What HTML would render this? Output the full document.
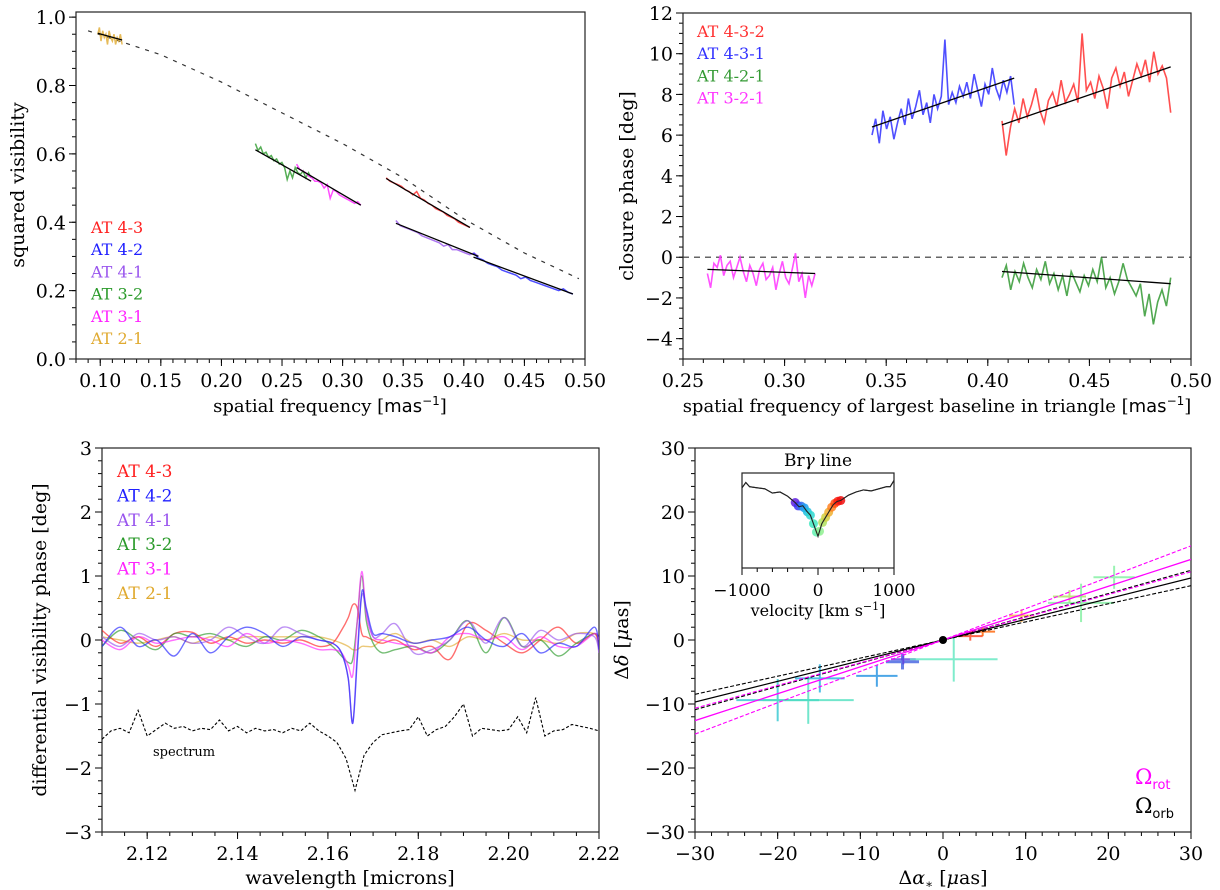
<!DOCTYPE html>
<html><head><meta charset="utf-8"><style>
html,body{margin:0;padding:0;background:#fff;}
svg{display:block;font-family:"DejaVu Serif","Liberation Serif",serif;}
</style></head><body>
<svg id="fig" width="1220" height="890" viewBox="0 0 1220 890" xmlns="http://www.w3.org/2000/svg"></svg>
<script>
// ---------- Panel 1 data: squared visibility ----------
const p1Names = ["AT 4-3","AT 4-2","AT 4-1","AT 3-2","AT 3-1","AT 2-1"];
const p1Colors = ["#ff2020","#2020ff","#9955ee","#2a9a2a","#ff22ff","#e0aa30"];
const p1XStart = [0.336,0.408,0.344,0.228,0.262,0.098];
const p1XEnd = [0.405,0.490,0.412,0.274,0.315,0.118];
const p1FitStart = [0.528,0.298,0.397,0.612,0.560,0.953];
const p1FitEnd = [0.385,0.190,0.300,0.520,0.450,0.933];
const p1V43 = [0.53,0.52,0.515,0.51,0.505,0.495,0.49,0.48,0.49,0.47,0.465,0.455,0.45,0.44,0.435,0.43,0.42,0.415,0.41,0.40,0.395,0.39,0.385];
const p1V42 = [0.31,0.295,0.29,0.28,0.275,0.27,0.26,0.255,0.25,0.245,0.235,0.24,0.23,0.225,0.22,0.215,0.21,0.205,0.20,0.205,0.195,0.19];
const p1V41 = [0.405,0.39,0.385,0.38,0.375,0.37,0.36,0.355,0.35,0.345,0.34,0.33,0.335,0.32,0.32,0.315,0.31,0.305,0.31,0.30];
const p1V32 = [0.63,0.61,0.62,0.60,0.605,0.59,0.595,0.58,0.585,0.57,0.575,0.56,0.525,0.55,0.53,0.56,0.545,0.54,0.55,0.53,0.545,0.53];
const p1V31 = [0.57,0.555,0.55,0.545,0.535,0.53,0.52,0.52,0.515,0.50,0.51,0.47,0.495,0.49,0.48,0.475,0.47,0.465,0.46,0.455,0.46,0.45];
const p1V21 = [0.95,0.97,0.93,0.96,0.94,0.95,0.92,0.96,0.94,0.93,0.95,0.92,0.94,0.93,0.95,0.92];
const p1ModelX = [0.09,0.15,0.20,0.25,0.30,0.35,0.40,0.45,0.495];
const p1ModelY = [0.96,0.89,0.81,0.72,0.63,0.53,0.41,0.31,0.235];
const p1XTicks = ["0.10","0.15","0.20","0.25","0.30","0.35","0.40","0.45","0.50"];
const p1YTicks = ["0.0","0.2","0.4","0.6","0.8","1.0"];

// ---------- Panel 2 data: closure phase ----------
const p2Names = ["AT 4-3-2","AT 4-3-1","AT 4-2-1","AT 3-2-1"];
const p2Colors = ["#ff3030","#3030ff","#339933","#ff33ff"];
const p2XStart = [0.407,0.343,0.407,0.262];
const p2XEnd = [0.490,0.413,0.490,0.315];
const p2FitStart = [6.5,6.4,-0.7,-0.6];
const p2FitEnd = [9.35,8.8,-1.3,-0.8];
const p2V432 = [6.7,5.0,6.4,7.3,6.6,7.8,6.9,7.5,8.3,7.2,6.6,7.7,8.1,7.4,8.7,7.6,8.0,8.5,7.6,11.0,8.2,8.6,7.8,8.9,8.3,7.3,8.8,9.3,8.4,9.1,7.9,8.7,9.5,8.9,9.7,8.6,10.1,9.0,9.4,8.8,7.1];
const p2V431 = [6.0,6.8,5.6,7.2,6.3,6.9,5.8,6.6,7.3,6.5,7.8,6.8,7.4,8.2,7.0,7.6,6.6,8.0,7.3,7.9,10.7,7.5,8.1,7.6,8.4,7.9,8.6,7.8,9.0,8.2,7.4,8.5,8.0,9.3,8.3,7.8,8.7,8.1,8.9,7.5];
const p2V421 = [-1.0,-0.4,-1.6,-0.7,-1.2,-0.3,-1.0,-1.5,-0.6,-1.1,-0.2,-1.3,-0.8,-1.6,-0.9,-1.9,-0.7,-1.2,-1.7,-0.9,-1.4,-0.6,-1.2,0.0,-1.5,-1.0,-1.8,-1.2,-0.3,-1.1,-1.5,-1.9,-1.3,-2.9,-1.8,-3.3,-2.2,-1.6,-2.4,-1.0];
const p2V321 = [-0.8,-1.5,-0.3,-0.5,0.1,-0.9,-0.4,-0.2,-1.0,-0.5,0.0,-0.7,-1.2,-0.4,-0.8,-1.4,-0.6,-0.3,-1.1,-0.9,-0.5,-1.6,-0.8,-0.2,-1.0,-1.3,-0.6,0.2,-1.2,-0.8,-2.0,-0.9,-1.4,-0.8];
const p2XTicks = ["0.25","0.30","0.35","0.40","0.45","0.50"];
const p2YTicks = ["−4","−2","0","2","4","6","8","10","12"];

// ---------- Panel 3 data: differential phase ----------
const p3Names = ["AT 4-3","AT 4-2","AT 4-1","AT 3-2","AT 3-1","AT 2-1"];
const p3Colors = ["#ff2020","#2020ff","#9955ee","#2a9a2a","#ff22ff","#e0aa30"];
const p3Wave = [2.110,2.114,2.118,2.122,2.126,2.130,2.134,2.138,2.142,2.146,2.150,2.154,2.158,2.161,2.163,2.1645,2.1655,2.1665,2.1675,2.1685,2.170,2.172,2.175,2.179,2.183,2.187,2.191,2.195,2.199,2.203,2.207,2.211,2.215,2.219,2.220];
const p3V43 = [0.15,-0.05,0.05,-0.1,0.1,0.12,-0.05,0.05,-0.05,0.0,-0.05,0.0,-0.1,-0.05,0.15,0.35,0.55,0.5,0.1,0.05,0.0,-0.05,0.0,-0.15,-0.1,-0.3,0.25,0.15,-0.05,-0.2,0.0,0.2,-0.05,0.1,-0.15];
const p3V42 = [-0.1,0.2,-0.1,0.0,-0.25,0.1,-0.2,0.05,0.2,0.1,-0.1,0.05,0.0,-0.05,-0.2,-0.6,-1.3,-0.3,0.75,0.5,0.1,0.1,0.05,-0.05,0.0,0.05,0.2,0.0,-0.1,0.1,-0.2,-0.05,-0.1,0.2,-0.15];
const p3V41 = [0.05,-0.1,0.1,0.0,0.05,-0.05,0.0,0.2,0.05,-0.05,0.2,0.1,0.0,-0.05,-0.2,-0.6,-1.3,-0.2,0.7,0.45,0.05,0.1,0.25,-0.2,-0.15,0.0,0.3,-0.05,0.35,-0.1,0.15,0.0,0.1,0.05,-0.2];
const p3V32 = [-0.1,0.15,0.0,-0.15,0.1,0.05,0.1,0.0,-0.1,0.05,0.0,0.15,0.05,-0.1,-0.25,-0.35,-0.3,0.3,1.0,0.3,-0.05,-0.2,-0.15,-0.1,-0.2,0.0,0.3,-0.2,0.35,-0.1,0.0,-0.25,-0.05,0.1,0.0];
const p3V31 = [0.0,-0.15,0.05,-0.05,0.0,0.05,0.0,-0.1,0.1,-0.05,0.0,-0.05,-0.15,-0.15,-0.2,-0.4,-0.55,0.3,1.07,0.4,0.05,0.0,-0.05,-0.1,-0.2,0.05,0.1,0.0,0.05,-0.15,0.05,-0.1,-0.1,0.1,0.0];
const p3V21 = [0.05,0.0,-0.05,0.0,0.05,-0.05,0.05,0.0,0.05,0.05,0.05,0.05,0.05,0.0,-0.05,-0.1,-0.15,-0.15,-0.1,-0.1,-0.1,0.0,0.1,-0.05,0.0,-0.1,0.05,0.0,0.1,0.0,0.0,-0.05,0.1,0.1,0.0];
const p3SpecStart = 2.110;
const p3SpecStep = 0.002;
const p3Spec = [-1.55,-1.42,-1.38,-1.45,-1.1,-1.5,-1.4,-1.3,-1.38,-1.35,-1.42,-1.38,-1.4,-1.25,-1.42,-1.35,-1.45,-1.38,-1.42,-1.4,-1.45,-1.38,-1.42,-1.3,-1.42,-1.5,-1.6,-1.85,-2.35,-1.8,-1.6,-1.48,-1.45,-1.42,-1.4,-1.2,-1.5,-1.4,-1.35,-1.2,-1.0,-1.5,-1.38,-1.4,-1.42,-1.4,-1.2,-1.45,-0.9,-1.5,-1.42,-1.4,-1.32,-1.35,-1.38,-1.42];
const p3XTicks = ["2.12","2.14","2.16","2.18","2.20","2.22"];
const p3YTicks = ["−3","−2","−1","0","1","2","3"];

// ---------- Panel 4 data: photocentre offsets ----------
const p4PtX = [-20.0,-16.3,-14.9,-8.0,-4.9,-4.8,1.3,3.3,4.8,9.5,15.3,16.7,20.7];
const p4PtY = [-9.4,-9.4,-6.0,-5.6,-3.4,-3.0,-3.0,0.6,1.3,3.8,6.8,5.8,9.8];
const p4ErrX = [5.0,5.5,3.0,2.5,2.0,1.5,5.3,1.5,1.5,1.5,2.0,4.0,2.5];
const p4ErrY = [3.3,3.7,2.2,1.7,1.2,0.8,3.5,0.7,0.7,1.0,1.0,3.0,1.8];
const p4PtColors = ["#30c8d0","#50e0c0","#20b0e0","#2090e0","#4060e0","#6040e0","#60e8c0","#ff4020","#ff6000","#ffb040","#b0e060","#80f0a0","#80f0a0"];
const p4RotSlope = 0.42;
const p4RotSlopeErr = [0.355,0.49];
const p4OrbSlope = 0.323;
const p4OrbSlopeErr = [0.283,0.363];
const p4Ticks = ["−30","−20","−10","0","10","20","30"];
const insetVel = [-1000,-950,-900,-800,-700,-600,-500,-400,-300,-250,-200,-150,-100,-50,0,50,100,150,200,250,300,400,500,600,700,800,900,950,1000];
const insetFlux = [0.93,0.955,0.935,0.93,0.925,0.905,0.91,0.89,0.86,0.84,0.845,0.82,0.80,0.75,0.70,0.76,0.79,0.82,0.85,0.865,0.87,0.895,0.91,0.92,0.915,0.925,0.935,0.935,0.965];
const insetDotVel = [-300,-260,-220,-180,-140,-100,-60,-20,20,60,100,140,180,220,260,300];
const insetDotColors = ["#6020e0","#4030f0","#3070f0","#20a0f0","#20c0e0","#30d8d0","#40e8c0","#60f0b0","#90f090","#b0e060","#d0d040","#f0b030","#ff8020","#ff5010","#ff2010","#ee1010"];

const NS = "http://www.w3.org/2000/svg";
const svg = document.getElementById("fig");
function el(tag, attrs, parent) {
  const e = document.createElementNS(NS, tag);
  for (const k in attrs) e.setAttribute(k, attrs[k]);
  (parent || svg).appendChild(e);
  return e;
}
function num(s){return parseFloat(s.replace("−","-"));}
function axes(name, px0, px1, py0, py1, xmin, xmax, ymin, ymax, xticks, yticks, xminor, yminor, fs) {
  const g = el("g", {});
  
  
  const sx = v => px0 + (v - xmin) / (xmax - xmin) * (px1 - px0);
  const sy = v => py1 - (v - ymin) / (ymax - ymin) * (py1 - py0);
  const tg = el("g", {stroke:"#000","stroke-width":1}, g);
  
  
  for (let v = Math.ceil(xmin / xminor - 1e-6) * xminor; v <= xmax + 1e-9; v += xminor)
    el("line", {x1:sx(v), x2:sx(v), y1:py1, y2:py1+4}, tg);
  for (let v = Math.ceil(ymin / yminor - 1e-6) * yminor; v <= ymax + 1e-9; v += yminor)
    el("line", {x1:px0-4, x2:px0, y1:sy(v), y2:sy(v)}, tg);
  xticks.forEach(t => {
    const v = num(t);
    el("line", {x1:sx(v), x2:sx(v), y1:py1, y2:py1+7}, tg);
    const tx = el("text", {x:sx(v), y:py1+28, "font-size":fs, "text-anchor":"middle"}, g);
    
    
    tx.textContent = t;
  });
  yticks.forEach(t => {
    const v = num(t);
    el("line", {x1:px0-7, x2:px0, y1:sy(v), y2:sy(v)}, tg);
    const tx = el("text", {x:px0-10, y:sy(v)+7, "font-size":fs, "text-anchor":"end"}, g);
    
    
    tx.textContent = t;
  });
  const fr = el("rect", {x:px0, y:py0, width:px1-px0, height:py1-py0, fill:"none", stroke:"#222", "stroke-width":1.2}, g);
  
  
  const clipId = name + "-clip";
  const cp = el("clipPath", {id:clipId}, g);
  el("rect", {x:px0, y:py0, width:px1-px0, height:py1-py0}, cp);
  const plot = el("g", {"clip-path":"url(#"+clipId+")"}, g);
  
  
  return {sx, sy, g, plot};
}
function label(txt, x, y, size, rot, color, anchor, nm) {
  const t = el("text", {x, y, "font-size":size, fill:color||"#000", "text-anchor":anchor||"middle"});
  if (rot) t.setAttribute("transform", "rotate(-90 " + x + " " + y + ")");
  
  
  t.innerHTML = txt;
  return t;
}
function poly(parent, pts, attrs, nm) {
  const p = el("polyline", Object.assign({points: pts.map(p=>p[0].toFixed(1)+","+p[1].toFixed(1)).join(" "), fill:"none"}, attrs), parent);
  
  
  return p;
}
function smooth(parent, pts, attrs, nm) {
  let d = "M" + pts[0][0] + "," + pts[0][1];
  for (let i = 0; i < pts.length - 1; i++) {
    const p0 = pts[Math.max(0,i-1)], p1 = pts[i], p2 = pts[i+1], p3 = pts[Math.min(pts.length-1,i+2)];
    const c1 = [p1[0]+(p2[0]-p0[0])/6, p1[1]+(p2[1]-p0[1])/6];
    const c2 = [p2[0]-(p3[0]-p1[0])/6, p2[1]-(p3[1]-p1[1])/6];
    d += " C" + c1.join(",") + " " + c2.join(",") + " " + p2.join(",");
  }
  const p = el("path", Object.assign({d, fill:"none"}, attrs), parent);
  
  
  return p;
}

// ===== Panel 1 =====
const A1 = axes("visibility-panel", 76, 585, 12, 359, 0.08, 0.50, 0, 1.015, p1XTicks, p1YTicks, 0.01, 0.05, 19);
const p1Vals = [p1V43, p1V42, p1V41, p1V32, p1V31, p1V21];
poly(A1.plot, p1ModelX.map((x,i)=>[A1.sx(x), A1.sy(p1ModelY[i])]), {stroke:"#333","stroke-width":1.2,"stroke-dasharray":"4,6"}, "model-curve");
[5,3,4,2,0,1].forEach(i => {
  const v = p1Vals[i], n = v.length;
  poly(A1.plot, v.map((y,k)=>[A1.sx(p1XStart[i]+(p1XEnd[i]-p1XStart[i])*k/(n-1)), A1.sy(y)]), {stroke:p1Colors[i],"stroke-width":1.5,opacity:0.8}, "data-" + p1Names[i].replace(/ /g,"-").toLowerCase());
});
p1Vals.forEach((v,i) => {
  poly(A1.plot, [[A1.sx(p1XStart[i]),A1.sy(p1FitStart[i])],[A1.sx(p1XEnd[i]),A1.sy(p1FitEnd[i])]], {stroke:"#000","stroke-width":1.3}, "fit-line");
});
p1Names.forEach((n,i) => label(n, 91, 233 + i*22.2, 16, false, p1Colors[i], "start", "legend-entry"));
label("squared visibility", 24, 185, 19, true, "#000", "middle", "y-axis-title");
label('spatial frequency [<tspan font-family="DejaVu Sans">mas</tspan><tspan font-size="12" dy="-7" font-family="DejaVu Sans">−1</tspan><tspan dy="7">]</tspan>', 330, 412, 18, false, "#000", "middle", "x-axis-title");

// ===== Panel 2 =====
const A2 = axes("closure-phase-panel", 683, 1191, 13, 359, 0.25, 0.50, -5, 12, p2XTicks, p2YTicks, 0.01, 0.5, 19);
poly(A2.plot, [[A2.sx(0.25),A2.sy(0)],[A2.sx(0.5),A2.sy(0)]], {stroke:"#333","stroke-width":1.2,"stroke-dasharray":"6,5"}, "zero-line");
const p2Vals = [p2V432, p2V431, p2V421, p2V321];
p2Vals.forEach((v,i) => {
  const n = v.length;
  poly(A2.plot, v.map((y,k)=>[A2.sx(p2XStart[i]+(p2XEnd[i]-p2XStart[i])*k/(n-1)), A2.sy(y)]), {stroke:p2Colors[i],"stroke-width":1.6,opacity:0.85}, "data-" + p2Names[i].replace(/ /g,"-").toLowerCase());
});
p2Vals.forEach((v,i) => {
  poly(A2.plot, [[A2.sx(p2XStart[i]),A2.sy(p2FitStart[i])],[A2.sx(p2XEnd[i]),A2.sy(p2FitEnd[i])]], {stroke:"#000","stroke-width":1.3}, "fit-line");
});
p2Names.forEach((n,i) => label(n, 697, 37 + i*22.2, 16, false, p2Colors[i], "start", "legend-entry"));
label("closure phase [deg]", 633, 186, 19, true, "#000", "middle", "y-axis-title");
label('spatial frequency of largest baseline in triangle [<tspan font-family="DejaVu Sans">mas</tspan><tspan font-size="12" dy="-7" font-family="DejaVu Sans">−1</tspan><tspan dy="7">]</tspan>', 937, 412, 18, false, "#000", "middle", "x-axis-title");

// ===== Panel 3 =====
const A3 = axes("differential-phase-panel", 102, 599, 448, 832, 2.11, 2.22, -3, 3, p3XTicks, p3YTicks, 0.005, 0.2, 19);
poly(A3.plot, p3Spec.map((y,k)=>[A3.sx(p3SpecStart + k*p3SpecStep), A3.sy(y)]), {stroke:"#000","stroke-width":1.1,"stroke-dasharray":"3,2"}, "spectrum-line");
const p3Vals = [p3V43, p3V42, p3V41, p3V32, p3V31, p3V21];
[5,0,3,4,2,1].forEach(i => {
  smooth(A3.plot, p3Vals[i].map((y,k)=>[+A3.sx(p3Wave[k]).toFixed(2), +A3.sy(y).toFixed(2)]), {stroke:p3Colors[i],"stroke-width":1.4,opacity:0.65}, "phase-" + p3Names[i].replace(/ /g,"-").toLowerCase());
});
p3Names.forEach((n,i) => label(n, 117, 477 + i*24.4, 17, false, p3Colors[i], "start", "legend-entry"));
label("spectrum", 153, 756, 13, false, "#000", "start", "spectrum-label");
label("differential visibility phase [deg]", 46, 640, 19, true, "#000", "middle", "y-axis-title");
label("wavelength [microns]", 350, 884, 19, false, "#000", "middle", "x-axis-title");

// ===== Panel 4 =====
const A4 = axes("photocentre-panel", 695, 1191, 448, 832, -30, 30, -30, 30, p4Ticks, p4Ticks, 2, 2, 19);
function slopeLine(s, attrs, nm) {
  poly(A4.plot, [[A4.sx(-30),A4.sy(-30*s)],[A4.sx(30),A4.sy(30*s)]], attrs, nm);
}
p4PtX.forEach((x,i) => {
  const g = el("g", {stroke:p4PtColors[i], "stroke-width": (i===4?3:2), opacity:0.8}, A4.plot);
  
  
  el("line", {x1:A4.sx(x-p4ErrX[i]), x2:A4.sx(x+p4ErrX[i]), y1:A4.sy(p4PtY[i]), y2:A4.sy(p4PtY[i])}, g);
  el("line", {x1:A4.sx(x), x2:A4.sx(x), y1:A4.sy(p4PtY[i]-p4ErrY[i]), y2:A4.sy(p4PtY[i]+p4ErrY[i])}, g);
});
p4OrbSlopeErr.forEach(s => slopeLine(s, {stroke:"#000","stroke-width":1.1,"stroke-dasharray":"4,2"}, "orbit-error-line"));
p4RotSlopeErr.forEach(s => slopeLine(s, {stroke:"#ff00ff","stroke-width":1.1,"stroke-dasharray":"4,2"}, "rotation-error-line"));
slopeLine(p4OrbSlope, {stroke:"#000","stroke-width":1.3}, "orbit-line");
slopeLine(p4RotSlope, {stroke:"#ff00ff","stroke-width":1.3}, "rotation-line");
const dot = el("circle", {cx:A4.sx(0), cy:A4.sy(0), r:4, fill:"#000"}, A4.plot);


label('Ω<tspan font-size="13" dy="5" font-family="DejaVu Sans">rot</tspan>', 1135, 784, 21, false, "#ff00ff", "start", "legend-omega-rot");
label('Ω<tspan font-size="13" dy="5" font-family="DejaVu Sans">orb</tspan>', 1135, 813, 21, false, "#000", "start", "legend-omega-orb");
label("Δ<tspan font-style='italic'>δ</tspan> [<tspan font-style='italic'>μ</tspan>as]", 628, 640, 19, true, "#000", "middle", "y-axis-title");
label("Δ<tspan font-style='italic'>α</tspan><tspan font-size='12' dy='4'>∗</tspan><tspan dy='-4'> [</tspan><tspan font-style='italic'>μ</tspan>as]", 943, 884, 19, false, "#000", "middle", "x-axis-title");

// inset
const bg = el("rect", {x:742, y:473, width:152, height:95, fill:"#fff"});


const AI = axes("inset-panel", 742, 894, 473, 568, -1000, 1000, 0.55, 1.0, ["−1000","0","1000"], [], 200, 10, 17);
poly(AI.plot, insetVel.map((v,i)=>[AI.sx(v), AI.sy(insetFlux[i])]), {stroke:"#333","stroke-width":1.1}, "inset-spectrum");
function interpFlux(v){for(let i=0;i<insetVel.length-1;i++){if(v>=insetVel[i]&&v<=insetVel[i+1]){const t=(v-insetVel[i])/(insetVel[i+1]-insetVel[i]);return insetFlux[i]+t*(insetFlux[i+1]-insetFlux[i]);}}return insetFlux[0];}
insetDotVel.forEach((v,i) => {
  const c = el("circle", {cx:AI.sx(v), cy:AI.sy(interpFlux(v)), r:4.5, fill:insetDotColors[i], opacity:0.85}, AI.plot);
  
  
});
poly(AI.plot, insetVel.map((v,i)=>[AI.sx(v), AI.sy(insetFlux[i])]), {stroke:"#222","stroke-width":1.1}, "inset-spectrum-top");
label("Br<tspan font-style='italic'>γ</tspan> line", 818, 466, 17, false, "#000", "middle", "inset-title");
label("velocity [km s<tspan font-size='11' dy='-6'>−1</tspan><tspan dy='6'>]</tspan>", 818, 616, 16, false, "#000", "middle", "inset-x-axis-title");
</script>
</body></html>
